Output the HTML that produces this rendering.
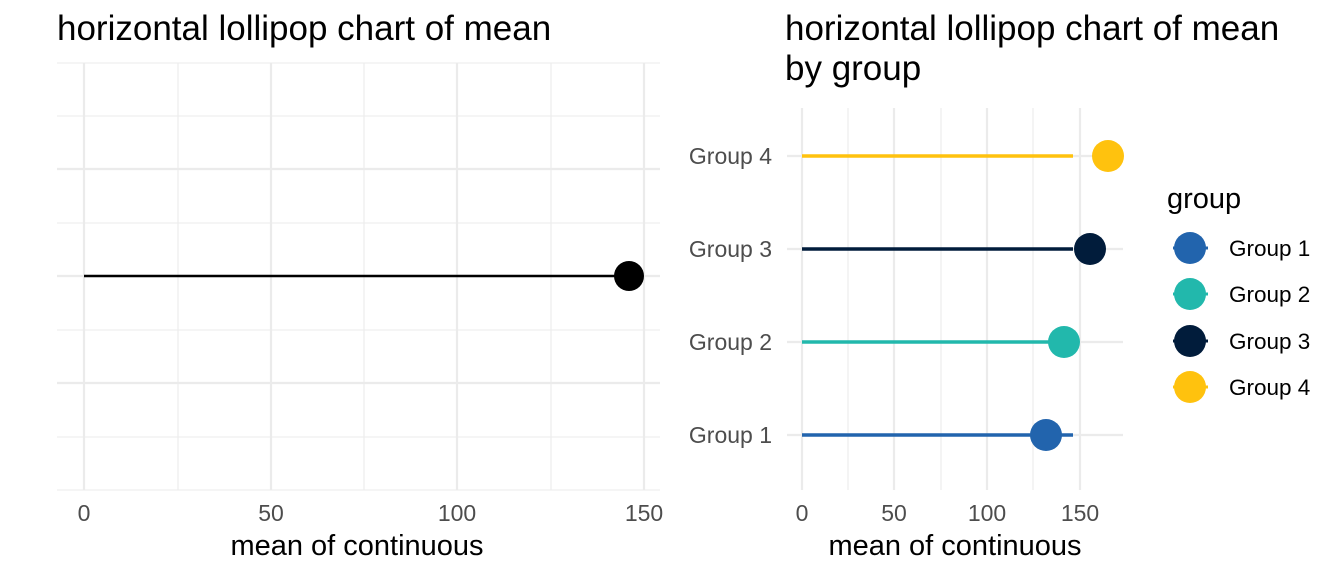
<!DOCTYPE html>
<html><head><meta charset="utf-8"><style>
html,body{margin:0;padding:0;background:#fff;}
svg{display:block;font-family:"Liberation Sans",Arial,sans-serif;}
</style></head><body>
<svg width="1344" height="576" viewBox="0 0 1344 576" xmlns="http://www.w3.org/2000/svg">
<rect width="1344" height="576" fill="#fff"/>
<!-- Left panel -->
<text x="57" y="40" font-size="35" fill="#000">horizontal lollipop chart of mean</text>
<g stroke="#ebebeb">
 <g stroke-width="1.1">
  <line x1="57" y1="63" x2="660" y2="63"/><line x1="57" y1="116" x2="660" y2="116"/>
  <line x1="57" y1="223" x2="660" y2="223"/><line x1="57" y1="330" x2="660" y2="330"/>
  <line x1="57" y1="437" x2="660" y2="437"/><line x1="57" y1="490" x2="660" y2="490"/>
  <line x1="178" y1="63" x2="178" y2="490"/><line x1="364" y1="63" x2="364" y2="490"/><line x1="551" y1="63" x2="551" y2="490"/>
 </g>
 <g stroke-width="2.2">
  <line x1="57" y1="169" x2="660" y2="169"/><line x1="57" y1="276" x2="660" y2="276"/><line x1="57" y1="383" x2="660" y2="383"/>
  <line x1="84" y1="63" x2="84" y2="490"/><line x1="271" y1="63" x2="271" y2="490"/><line x1="457" y1="63" x2="457" y2="490"/><line x1="644" y1="63" x2="644" y2="490"/>
 </g>
</g>
<line x1="84" y1="276" x2="629" y2="276" stroke="#000" stroke-width="2.5"/>
<circle cx="629" cy="276" r="15" fill="#000"/>
<g font-size="23" fill="#4d4d4d" text-anchor="middle">
 <text x="84" y="521">0</text><text x="271" y="521">50</text><text x="457" y="521">100</text><text x="644" y="521">150</text>
</g>
<text x="357" y="555" font-size="29" text-anchor="middle" fill="#000">mean of continuous</text>

<!-- Right panel -->
<text x="785" y="40" font-size="35" fill="#000">horizontal lollipop chart of mean</text>
<text x="785" y="80" font-size="35" fill="#000">by group</text>
<g stroke="#ebebeb">
 <g stroke-width="1.1">
  <line x1="848" y1="108" x2="848" y2="490"/><line x1="941" y1="108" x2="941" y2="490"/><line x1="1033" y1="108" x2="1033" y2="490"/>
 </g>
 <g stroke-width="2.2">
  <line x1="802" y1="108" x2="802" y2="490"/><line x1="894" y1="108" x2="894" y2="490"/><line x1="987" y1="108" x2="987" y2="490"/><line x1="1080" y1="108" x2="1080" y2="490"/>
  <line x1="787" y1="156" x2="1123" y2="156"/><line x1="787" y1="249" x2="1123" y2="249"/><line x1="787" y1="342" x2="1123" y2="342"/><line x1="787" y1="435" x2="1123" y2="435"/>
 </g>
</g>
<g stroke-width="3.5">
 <line x1="802" y1="156" x2="1073" y2="156" stroke="#ffc20e"/>
 <line x1="802" y1="249" x2="1073" y2="249" stroke="#011c3b"/>
 <line x1="802" y1="342" x2="1064" y2="342" stroke="#22b8ac"/>
 <line x1="802" y1="435" x2="1073" y2="435" stroke="#2264ad"/>
</g>
<circle cx="1108" cy="156" r="16" fill="#ffc20e"/>
<circle cx="1090" cy="249" r="16" fill="#011c3b"/>
<circle cx="1064" cy="342" r="16" fill="#22b8ac"/>
<circle cx="1046" cy="435" r="16" fill="#2264ad"/>
<g font-size="23" fill="#4d4d4d" text-anchor="end">
 <text x="772" y="164">Group 4</text><text x="772" y="257">Group 3</text><text x="772" y="350">Group 2</text><text x="772" y="443">Group 1</text>
</g>
<g font-size="23" fill="#4d4d4d" text-anchor="middle">
 <text x="802" y="521">0</text><text x="894" y="521">50</text><text x="987" y="521">100</text><text x="1080" y="521">150</text>
</g>
<text x="955" y="555" font-size="29" text-anchor="middle" fill="#000">mean of continuous</text>

<!-- Legend -->
<text x="1167" y="208" font-size="29" fill="#000">group</text>
<g stroke-width="3">
 <line x1="1173" y1="248" x2="1208" y2="248" stroke="#2264ad"/><circle cx="1190" cy="248" r="16" fill="#2264ad"/>
 <line x1="1173" y1="294" x2="1208" y2="294" stroke="#22b8ac"/><circle cx="1190" cy="294" r="16" fill="#22b8ac"/>
 <line x1="1173" y1="341" x2="1208" y2="341" stroke="#011c3b"/><circle cx="1190" cy="341" r="16" fill="#011c3b"/>
 <line x1="1173" y1="387" x2="1208" y2="387" stroke="#ffc20e"/><circle cx="1190" cy="387" r="16" fill="#ffc20e"/>
</g>
<g font-size="22.5" fill="#000">
 <text x="1229" y="256">Group 1</text><text x="1229" y="302">Group 2</text><text x="1229" y="349">Group 3</text><text x="1229" y="395">Group 4</text>
</g>
</svg>
</body></html>
